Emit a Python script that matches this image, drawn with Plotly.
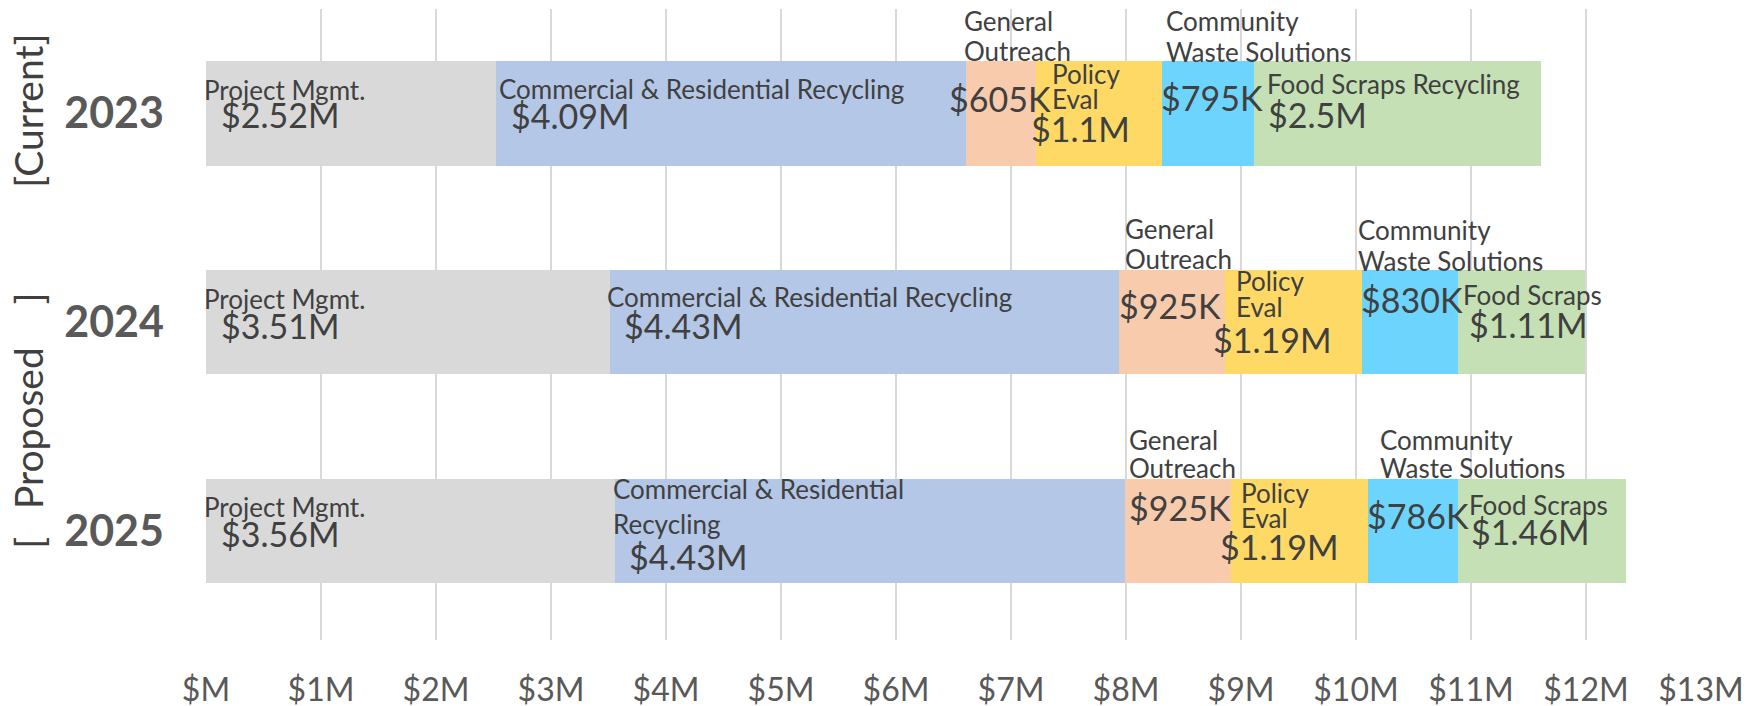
import plotly.graph_objects as go

years = ["2023", "2024", "2025"]
programs = ["Project Mgmt.", "Commercial & Residential Recycling", "General Outreach",
            "Policy Eval", "Community Waste Solutions", "Food Scraps Recycling"]
colors = ["#d9d9d9", "#b4c7e7", "#f8cbad", "#ffd966", "#6dd5fd", "#c5e0b4"]

# values in $M, per program, per year (2023, 2024, 2025)
project_mgmt = [2.52, 3.51, 3.56]
commercial_residential = [4.09, 4.43, 4.43]
general_outreach = [0.605, 0.925, 0.925]
policy_eval = [1.1, 1.19, 1.19]
community_waste = [0.795, 0.83, 0.786]
food_scraps = [2.5, 1.11, 1.46]

value_labels = [
    ["$2.52M", "$3.51M", "$3.56M"],
    ["$4.09M", "$4.43M", "$4.43M"],
    ["$605K", "$925K", "$925K"],
    ["$1.1M", "$1.19M", "$1.19M"],
    ["$795K", "$830K", "$786K"],
    ["$2.5M", "$1.11M", "$1.46M"],
]
# category-name label lines, per program, per year
name_labels = [
    [["Project Mgmt."], ["Project Mgmt."], ["Project Mgmt."]],
    [["Commercial & Residential Recycling"], ["Commercial & Residential Recycling"],
     ["Commercial & Residential", "Recycling"]],
    [["General", "Outreach"], ["General", "Outreach"], ["General", "Outreach"]],
    [["Policy", "Eval"], ["Policy", "Eval"], ["Policy", "Eval"]],
    [["Community", "Waste Solutions"], ["Community", "Waste Solutions"], ["Community", "Waste Solutions"]],
    [["Food Scraps Recycling"], ["Food Scraps"], ["Food Scraps"]],
]

series = [project_mgmt, commercial_residential, general_outreach,
          policy_eval, community_waste, food_scraps]

# label placement offsets in px (dx right, dy down from bar centre)
name_off = [
    [(-4, [-23]), (-4, [-23]), (-4, [-24])],
    [(1, [-24]), (-5, [-25]), (-4, [-42, -7])],
    [(-4, [-92, -62]), (4, [-93, -63]), (2, [-91, -63])],
    [(14, [-39, -14]), (9, [-41, -15]), (8, [-38, -13])],
    [(2, [-92, -61]), (-6, [-92, -61]), (10, [-91, -63])],
    [(11, [-29]), (3, [-27]), (9, [-26])],
]
value_off = [
    [(13, 1), (13, 3), (13, 2)],
    [(13, 2), (12, 3), (12, 25)],
    [(-19, -15), (-2, -17), (2, -24)],
    [(-7, 15), (-14, 17), (-13, 15)],
    [(-3, -16), (-3, -23), (-3, -16)],
    [(12, 1), (9, 2), (11, 0)],
]

FONT = "Lato"
TXT = "#404040"

fig = go.Figure()
for name, vals, col in zip(programs, series, colors):
    fig.add_trace(go.Bar(y=years, x=vals, name=name, orientation="h",
                         marker=dict(color=col, line=dict(width=0)),
                         hoverinfo="x+name"))

annotations = []
for i, vals in enumerate(series):
    for j, yr in enumerate(years):
        start = sum(series[k][j] for k in range(i))
        dx, dys = name_off[i][j]
        for line, dy in zip(name_labels[i][j], dys):
            annotations.append(dict(x=start, y=j, xref="x", yref="y", text=line,
                                    showarrow=False, xanchor="left", yanchor="middle",
                                    xshift=dx, yshift=-dy,
                                    font=dict(family=FONT, size=26, color=TXT)))
        vdx, vdy = value_off[i][j]
        annotations.append(dict(x=start, y=j, xref="x", yref="y", text=value_labels[i][j],
                                showarrow=False, xanchor="left", yanchor="middle",
                                xshift=vdx, yshift=-vdy,
                                font=dict(family=FONT, size=34, color=TXT)))

# group captions to the left of the year labels (rotated)
side_font = dict(family=FONT, size=39, color="#404040")
for txt, ypos in [("[Current]", -0.013), ("]", 0.887), ("Proposed", 1.507), ("[", 2.056)]:
    annotations.append(dict(x=0, y=ypos, xref="paper", yref="y", text=txt, textangle=-90,
                            showarrow=False, xanchor="center", yanchor="middle", xshift=-178,
                            font=side_font))

ticks = list(range(0, 14))
ticktext = ["$M"] + [f"${t}M" for t in ticks[1:]]

fig.update_layout(
    barmode="stack",
    bargap=0.5,
    width=1759, height=706,
    margin=dict(l=206, r=58, t=9, b=66),
    plot_bgcolor="white", paper_bgcolor="white",
    showlegend=False,
    annotations=annotations,
    xaxis=dict(range=[0, 13], tickvals=ticks, ticktext=ticktext,
               showgrid=True, gridcolor="#d9d9d9", gridwidth=2,
               zeroline=False, showline=False, ticks="", automargin=False,
               tickfont=dict(family=FONT, size=32, color="#595959"),
               ticklabelstandoff=28),
    yaxis=dict(type="category", categoryorder="array", categoryarray=years,
               autorange="reversed", automargin=False,
               showgrid=False, zeroline=False, showline=False, ticks="",
               tickfont=dict(family=FONT, size=43, color="#595959", weight="bold"),
               ticklabelstandoff=41),
)

fig.write_html("out.html", config={"displayModeBar": False},
               post_script="document.body.style.margin='0';")
